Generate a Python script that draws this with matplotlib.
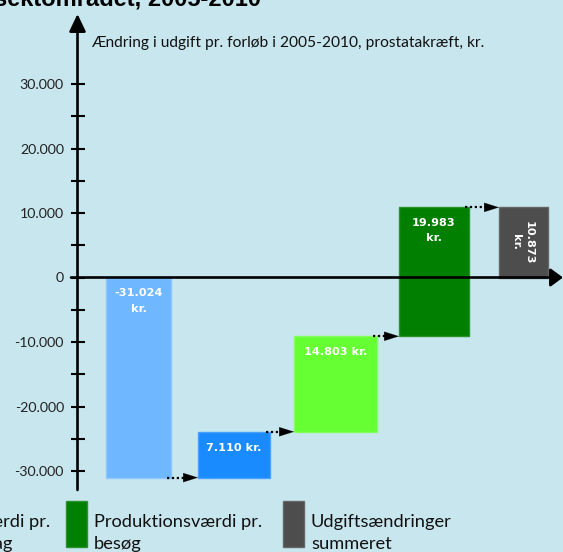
import matplotlib
matplotlib.use('Agg')
import matplotlib.pyplot as plt
from matplotlib import transforms
from matplotlib.patches import Rectangle

# ---------------- data ----------------
categories = ["Færre sengedage", "Flere ambulante\nbesøg",
              "Produktionsværdi pr.\nindlæggelsesdag",
              "Produktionsværdi pr.\nbesøg", "Udgiftsændringer\nsummeret"]
changes = [-31024, 7110, 14803, 19983]
total = 10873
bar_labels = ["-31.024\nkr.", "7.110 kr.", "14.803 kr.", "19.983\nkr.", "10.873\nkr."]
ytick_values = [-30000, -20000, -10000, 0, 10000, 20000, 30000]
ytick_labels = ["-30.000", "-20.000", "-10.000", "0", "10.000", "20.000", "30.000"]
minor_values = [-25000, -15000, -5000, 5000, 15000, 25000]
title = "Ændring i udgifter på sundhedssektområdet, 2005-2010"
subtitle = "Ændring i udgift pr. forløb i 2005-2010, prostatakræft, kr."

# ---------------- style / layout ----------------
colors = ["#6FB7FF", "#1A8AFF", "#66FF33", "#007F00", "#4D4D4D"]
edgecolors = ["#8FC8FF", "#4AA2FF", "#85FF60", "#2A922A", "#666666"]
bg = "#C8E6EE"
W, H = 563, 552
K = 0.00645         # pixels per kr.
Y0 = 277.5          # pixel row of zero
lefts = [106, 198, 294, 399, 499]
widths = [65, 72, 83, 70, 49]
axis_x = 77.5
leg_box_left = [-146 - 2 * 217, -146 - 217, -146, 66, 283]

plt.rcParams['font.family'] = ['Lato', 'DejaVu Sans']

fig = plt.figure(figsize=(W / 100, H / 100), dpi=100)
fig.patch.set_facecolor(bg)
ax = fig.add_axes([0, 0, 1, 1])
ax.set_facecolor(bg)
ax.set_xlim(0, W)
ax.set_ylim(-(H - Y0) / K, Y0 / K)
renderer = fig.canvas.get_renderer()


def pix_y(py):
    return (Y0 - py) / K


def axpos(px, py):
    return (px / W, 1 - py / H)


def fitted_size(txt, size, target_w, **kw):
    t = fig.text(0, 0, txt, fontsize=size, **kw)
    w = t.get_window_extent(renderer).width
    t.remove()
    return size * target_w / w


# ---- bars (waterfall) ----
bottoms, heights, ends = [], [], []
cum = 0
for c in changes:
    bottoms.append(cum)
    heights.append(c)
    cum += c
    ends.append(cum)
bottoms.append(0)
heights.append(total)

ax.bar(lefts, heights, width=widths, bottom=bottoms, align='edge',
       color=colors, edgecolor=edgecolors, linewidth=1.0, zorder=3)

# ---- bar labels ----
lab_size = fitted_size("-31.024", 8, 48, fontweight='bold', family='DejaVu Sans')
for i in range(4):
    top = max(bottoms[i], bottoms[i] + heights[i])
    cx = lefts[i] + widths[i] / 2
    for j, line in enumerate(bar_labels[i].split("\n")):
        tr = transforms.offset_copy(ax.transData, fig=fig, x=0, y=-16 - 15 * j, units='dots')
        ax.text(cx, top, line, transform=tr, ha='center', va='center',
                color='white', fontsize=lab_size, fontweight='bold',
                family='DejaVu Sans', zorder=5)
ax.text(lefts[4] + widths[4] / 2 - 1, total / 2, bar_labels[4], rotation=-90,
        ha='center', va='center', multialignment='center', linespacing=1.4,
        color='white', fontsize=lab_size, fontweight='bold', family='DejaVu Sans', zorder=5)

# ---- dotted connector arrows ----
for i in range(4):
    y = ends[i]
    x_start = lefts[i] + widths[i] - 4
    x_tip = lefts[i + 1]
    ax.plot([x_start, x_tip - 14], [y, y], color='black', lw=1.6,
            ls=(0, (1, 1.2)), zorder=4, solid_capstyle='butt')
    ax.annotate('', xy=(x_tip, y), xytext=(x_tip - 15, y),
                arrowprops=dict(arrowstyle='-|>,head_length=1.05,head_width=0.33',
                                color='black', lw=0.1, shrinkA=0, shrinkB=0),
                zorder=4)

# ---- axes with arrows ----
for s in ax.spines.values():
    s.set_visible(False)
ax.spines['left'].set_position(('data', axis_x))
ax.xaxis.set_visible(False)

ax.annotate('', xy=(axis_x, pix_y(14)), xytext=(axis_x, pix_y(490)),
            arrowprops=dict(arrowstyle='-|>,head_length=1.05,head_width=0.5',
                            color='black', lw=1.9, shrinkA=0, shrinkB=0), zorder=6)
ax.annotate('', xy=(W, 0), xytext=(71, 0),
            arrowprops=dict(arrowstyle='-|>,head_length=0.75,head_width=0.55',
                            color='black', lw=1.9, shrinkA=0, shrinkB=0), zorder=6)

tick_size = fitted_size("30.000", 10, 44)
ax.set_yticks(ytick_values)
ax.set_yticklabels(ytick_labels)
ax.set_yticks(minor_values, minor=True)
ax.tick_params(axis='y', which='both', direction='inout', length=10.5, width=1.5,
               color='black', labelsize=tick_size, labelcolor='#222222', pad=4.5)

# ---- title & subtitle ----
ax.text(*axpos(261, 6), title, transform=ax.transAxes, ha='right', va='baseline',
        fontsize=17, fontweight='bold', family='Liberation Sans', color='black')
sub_size = fitted_size(subtitle, 10, 392)
ax.text(*axpos(91, 43), subtitle, transform=ax.transAxes, ha='left', va='center',
        fontsize=sub_size, color='#111111')

# ---- legend row (clipped on the left like the original) ----
leg_size = fitted_size("Produktionsværdi pr.", 11, 168)
for i, lab in enumerate(categories):
    bx = leg_box_left[i]
    (x0, y0) = axpos(bx, 547)
    ax.add_patch(Rectangle((x0, y0), 21 / W, 46 / H, transform=ax.transAxes,
                           facecolor=colors[i], edgecolor=edgecolors[i], lw=1,
                           clip_on=False))
    for j, line in enumerate(lab.split("\n")):
        ax.text(*axpos(bx + 28, 527 + 22 * j), line, transform=ax.transAxes,
                ha='left', va='baseline', fontsize=leg_size, color='#111111')

fig.savefig('out.png', dpi=100, facecolor=bg)
